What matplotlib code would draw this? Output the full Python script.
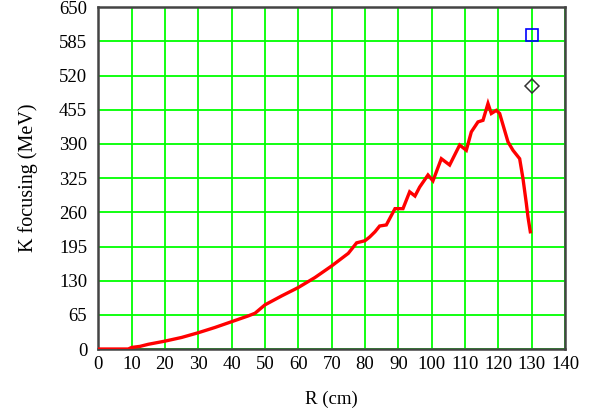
import matplotlib
matplotlib.use("Agg")
import matplotlib.pyplot as plt

# K focusing curve
r_cm = [0, 9, 10, 12.5, 15, 20, 25, 30, 35, 40, 45, 47, 48.5, 50, 55, 60, 65,
        70, 75, 77.5, 80, 81.4, 83, 84.4, 86.4, 89, 91.4, 93.4, 95, 96.4,
        98.9, 100.4, 102.9, 105.4, 108.4, 110.4, 111.9, 113.9, 115.4, 116.9,
        117.9, 119.4, 120.4, 122.9, 124.4, 126.4, 127.4, 128.4, 128.9, 129.6]
k_mev = [0, 0, 3, 5, 9, 15, 22, 31, 41, 52, 63, 68, 76, 84, 101, 117, 136,
         158, 182, 202, 206, 213, 223, 234, 236, 267, 267, 299, 291, 308,
         331, 320, 362, 350, 388, 378, 413, 432, 435, 467,
         448, 454, 448, 394, 378, 362, 324, 277, 251, 223]

# the two single markers at the right edge
square_pt = (130, 598)
diamond_pt = (130, 500)

x_ticks = list(range(0, 141, 10))
y_ticks = list(range(0, 651, 65))

plt.rcParams['font.family'] = ['Liberation Serif', 'DejaVu Serif']

fig = plt.figure(figsize=(5.91, 4.15), dpi=100)
ax = fig.add_axes([0.1663, 0.159, 0.7897, 0.8234])

ax.plot(r_cm, k_mev, color='#ff0000', lw=2.4, solid_joinstyle='miter', zorder=3)
ax.plot(*square_pt, marker='s', ms=8, mfc='none', mec='#0000ff', mew=1.2,
        linestyle='none', zorder=4)
ax.plot(*diamond_pt, marker='D', ms=7, mfc='none', mec='#333333', mew=1.1,
        linestyle='none', zorder=4)

ax.set_xlim(0, 140)
ax.set_ylim(0, 650)
ax.set_xticks(x_ticks)
ax.set_yticks(y_ticks)
ax.grid(True, color='#00ff00', lw=1.3)
ax.set_axisbelow(True)
ax.tick_params(length=0, labelsize=13.5)
ax.tick_params(axis='y', pad=8)
ax.tick_params(axis='x', pad=5)
for s in ax.spines.values():
    s.set_color('#444444')
    s.set_linewidth(1.8)

ax.set_xlabel('R (cm)', fontsize=13.5, labelpad=13)
ax.set_ylabel('K focusing (MeV)', fontsize=14.5, labelpad=15)

fig.savefig('out.png', dpi=100)
